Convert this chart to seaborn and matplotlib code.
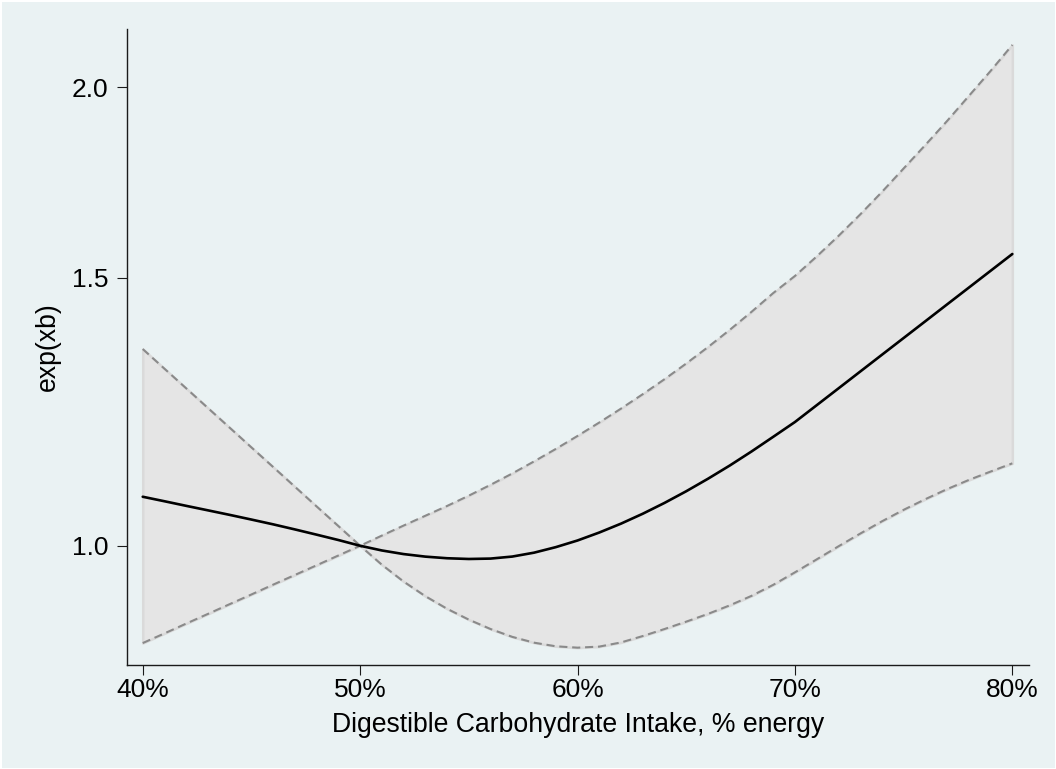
import matplotlib
matplotlib.use("Agg")
import matplotlib.pyplot as plt
from matplotlib.ticker import FixedLocator, FixedFormatter, NullLocator
import pandas as pd
import seaborn as sns

# Digestible carbohydrate intake (% of energy)
carb_pct = list(range(40, 81))

# Spline estimate exp(xb) with its 95% confidence band
hr_est = [1.0769, 1.0696, 1.0622, 1.0550, 1.0478, 1.0404, 1.0329, 1.0250,
          1.0169, 1.0087, 1.0000, 0.9929, 0.9875, 0.9837, 0.9813, 0.9802,
          0.9808, 0.9838, 0.9896, 0.9979, 1.0080, 1.0202, 1.0340, 1.0496,
          1.0669, 1.0859, 1.1066, 1.1289, 1.1531, 1.1790, 1.2057, 1.2367,
          1.2685, 1.3012, 1.3347, 1.3690, 1.4042, 1.4404, 1.4774, 1.5154,
          1.5544]
hr_lower = [0.8632, 0.8759, 0.8890, 0.9021, 0.9155, 0.9290, 0.9429, 0.9568,
            0.9709, 0.9854, 1.0000, 0.9717, 0.9473, 0.9266, 0.9091, 0.8943,
            0.8817, 0.8713, 0.8637, 0.8590, 0.8572, 0.8586, 0.8640, 0.8724,
            0.8817, 0.8916, 0.9021, 0.9138, 0.9270, 0.9426, 0.9606, 0.9796,
            0.9991, 1.0185, 1.0376, 1.0558, 1.0730, 1.0894, 1.1046, 1.1187,
            1.1327]
hr_upper = [1.3464, 1.3069, 1.2687, 1.2315, 1.1954, 1.1603, 1.1264, 1.0933,
            1.0612, 1.0302, 1.0000, 1.0155, 1.0310, 1.0464, 1.0620, 1.0787,
            1.0965, 1.1155, 1.1360, 1.1576, 1.1806, 1.2048, 1.2304, 1.2575,
            1.2863, 1.3172, 1.3503, 1.3859, 1.4241, 1.4652, 1.5036, 1.5486,
            1.5973, 1.6501, 1.7072, 1.7690, 1.8330, 1.9007, 1.9739, 2.0500,
            2.1322]

x_ticks = [40, 50, 60, 70, 80]
x_tick_labels = ["40%", "50%", "60%", "70%", "80%"]
y_ticks = [1.0, 1.5, 2.0]
y_tick_labels = ["1.0", "1.5", "2.0"]

x_label = "Digestible Carbohydrate Intake, % energy"
y_label = "exp(xb)"

BG = "#EAF2F3"
BAND = "#E5E5E5"
BAND_EDGE = "#DADADA"
CI_LINE = "#8A8A8A"

sns.set_theme(style="ticks", rc={
    "axes.facecolor": BG,
    "figure.facecolor": BG,
    "axes.edgecolor": "#1A1A1A",
    "axes.linewidth": 1.0,
})
plt.rcParams["font.family"] = ["Liberation Sans", "DejaVu Sans"]

df = pd.DataFrame({
    "carb": carb_pct,
    "est": hr_est,
    "lower": hr_lower,
    "upper": hr_upper,
})

fig = plt.figure(figsize=(10.56, 7.69), dpi=100, facecolor=BG)
fig.patch.set_edgecolor("white")
fig.patch.set_linewidth(2)
ax = fig.add_axes([0.1200, 0.1352, 0.8545, 0.8274])
ax.set_facecolor(BG)

# confidence band
ax.fill_between(df["carb"], df["lower"], df["upper"],
                facecolor=BAND, edgecolor=BAND_EDGE, linewidth=1.8, zorder=1)

# band limits, dashed
dash = (0, (3.9, 2.3))
sns.lineplot(data=df, x="carb", y="upper", ax=ax, color=CI_LINE,
             linewidth=1.5, linestyle=dash, zorder=2)
sns.lineplot(data=df, x="carb", y="lower", ax=ax, color=CI_LINE,
             linewidth=1.5, linestyle=dash, zorder=2)

# point estimate
sns.lineplot(data=df, x="carb", y="est", ax=ax, color="black",
             linewidth=1.9, zorder=3)

ax.set_yscale("log")
ax.set_xlim(39.264, 80.77)
ax.set_ylim(0.835, 2.185)

ax.xaxis.set_major_locator(FixedLocator(x_ticks))
ax.xaxis.set_major_formatter(FixedFormatter(x_tick_labels))
ax.yaxis.set_major_locator(FixedLocator(y_ticks))
ax.yaxis.set_major_formatter(FixedFormatter(y_tick_labels))
ax.yaxis.set_minor_locator(NullLocator())
ax.xaxis.set_minor_locator(NullLocator())

ax.tick_params(axis="both", which="major", direction="out", length=7.2,
               width=0.8, color="#1A1A1A", labelcolor="black", labelsize=19)
ax.tick_params(axis="x", pad=2)
ax.tick_params(axis="y", pad=6)

ax.set_xlabel(x_label, fontsize=19.2, color="black", labelpad=7)
ax.set_ylabel(y_label, fontsize=19.2, color="black", labelpad=8)

for side in ("top", "right"):
    ax.spines[side].set_visible(False)

fig.savefig("out.png", dpi=100, facecolor=BG)
